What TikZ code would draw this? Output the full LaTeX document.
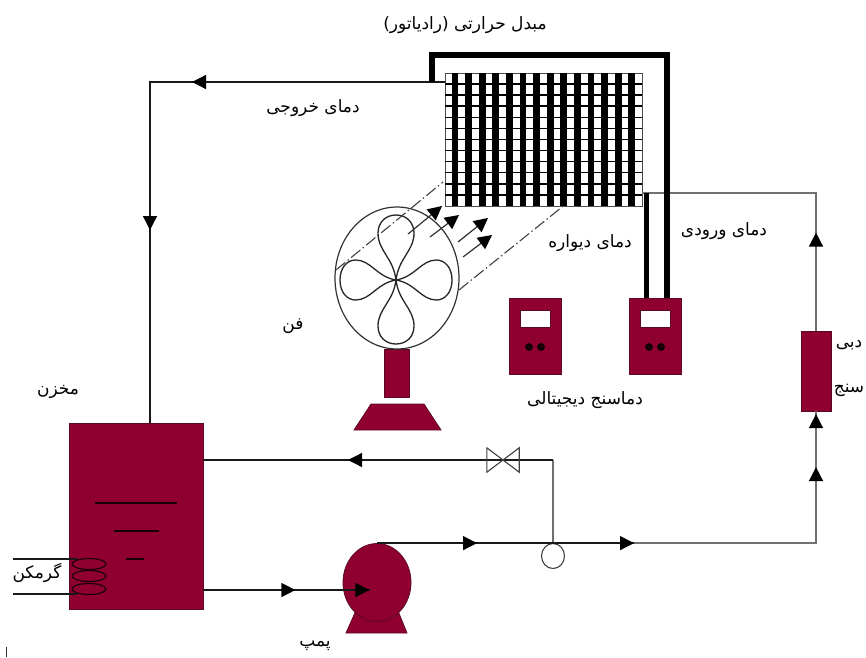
\documentclass[tikz,border=0pt]{standalone}
\usepackage{fontspec}
\usepackage{xcolor}
\usetikzlibrary{shapes.geometric, arrows.meta, positioning, calc, decorations.markings}
\newfontfamily\arabicfont[Script=Arabic]{DejaVu Sans}
\TeXXeTstate=1
\newcommand{\fa}[1]{\beginR #1\endR}
\definecolor{vesselRed}{HTML}{8F0030}
\definecolor{vesselEdge}{HTML}{5C0A24}
\definecolor{pipeGray}{HTML}{707070}
\tikzset{
    >=Triangle,
    % Flow marks
    flowtip/.style={postaction={decorate, decoration={markings,
        mark=at position #1 with {\arrow[black]{Triangle[length=14pt,width=14pt]}}}}},
    % Shapes
    vessel/.style={draw=vesselEdge, fill=vesselRed, line width=0.8pt},
    tankbox/.style={rectangle, vessel, inner sep=0pt, minimum width=134pt, minimum height=186pt},
    meterbox/.style={rectangle, vessel, inner sep=0pt, minimum width=52pt, minimum height=76pt},
    meterwin/.style={rectangle, draw=vesselEdge, fill=white, line width=0.8pt, inner sep=0pt,
                     minimum width=30pt, minimum height=17pt},
    meterdot/.style={circle, fill=black!85!vesselRed, inner sep=0pt, minimum size=8pt},
    coil/.style={ellipse, draw=black!80!vesselRed, line width=1.2pt, inner sep=0pt,
                 minimum width=34pt, minimum height=11pt},
    % Lines
    pipe/.style={draw=black!90, line width=1.3pt},
    pipegray/.style={draw=pipeGray, line width=1.6pt},
    thermo/.style={draw=black, line width=5.5pt},
    airline/.style={draw=black!75, line width=1.1pt, dash pattern=on 12pt off 3pt on 1.5pt off 3pt},
    airflow/.style={draw=black!80, line width=1.2pt, -{Triangle[length=14pt,width=14pt,color=black]}},
    lobe/.style={draw=black!85, line width=1.3pt},
    lbl/.style={font=\arabicfont\fontsize{17}{20}\selectfont, inner sep=0pt, text=black}
}
\begin{document}
\begin{tikzpicture}[x=1pt,y=-1pt]
\useasboundingbox (0,0) rectangle (866,657);

% radiator
\node[rectangle, draw=black!70, fill=white, line width=0.8pt, inner sep=0pt,
      minimum width=197pt, minimum height=133pt] (radiator) at (543.5,139.5) {};
\foreach \r in {1,...,11}
    \draw[black, line width=1.5pt] (445,73+11.08*\r) -- (642,73+11.08*\r);
\foreach \b in {0,...,13}
    \draw[black, line width=6.8pt] (455+13.6*\b,73) -- (455+13.6*\b,206);

% meters
\node[meterbox] (meterA) at (535,336) {};
\node[meterbox] (meterB) at (655,336) {};
\foreach \m in {meterA,meterB}{
    \node[meterwin, below=12pt of \m.north] (\m win) {};
    \node[meterdot] (\m dotL) at ($(\m.center)+(-6,11)$) {};
    \node[meterdot] (\m dotR) at ($(\m.center)+(6,11)$) {};
}

% fan stand, then fan
\node[rectangle, vessel, inner sep=0pt, minimum width=25pt, minimum height=48pt] (stand) at (396.5,373) {};
\draw[vessel] (354,430) -- (371,404) -- (424,404) -- (441,430) -- cycle;
\node[ellipse, draw=black!80, fill=white, line width=1.2pt, inner sep=0pt,
      minimum width=124pt, minimum height=142pt] (fan) at (397,278) {};
\foreach \ang/\len/\wid in {0/65/18, 90/56/20, 180/64/18, 270/56/20}
    \draw[lobe, shift={(396,280)}, rotate=\ang, xscale=\wid, yscale=\len]
        (0,0) .. controls (-0.15,-0.34) and (-1,-0.45) .. (-1,-0.72)
        .. controls (-1,-0.88) and (-0.6,-1) .. (0,-1)
        .. controls (0.6,-1) and (1,-0.88) .. (1,-0.72)
        .. controls (1,-0.45) and (0.15,-0.34) .. (0,0);

% air between fan and radiator
\coordinate (airTopA) at (336,270);
\coordinate (airTopB) at (443,182);
\coordinate (airBotA) at (459,290);
\coordinate (airBotB) at (562,207);
\draw[airline] (airTopA) -- (airTopB);
\draw[airline] (airBotA) -- (airBotB);
\foreach \i/\ax/\ay/\bx/\by in {1/408/234/442/206, 2/430/237/459/215, 3/458/242/488/218, 4/463/257/492/235}{
    \coordinate (airS\i) at (\ax,\ay);
    \coordinate (airE\i) at (\bx,\by);
    \draw[airflow] (airS\i) -- (airE\i);
}

% tank
\node[tankbox] (tank) at (136,516) {};
\draw[black!85!vesselRed, line width=1.2pt] (95,503) -- (177,503);
\draw[black!85!vesselRed, line width=1.2pt] (114,531) -- (159,531);
\draw[black!85!vesselRed, line width=1.2pt] (126,559) -- (144,559);
\node[coil] (coilA) at (89,564) {};
\node[coil] (coilB) at (89,576) {};
\node[coil] (coilC) at (89,589) {};
\coordinate (heatIn) at (13,559);
\coordinate (heatOut) at (13,594);
\draw[pipe] (heatIn) -- (heatIn -| coilA.north west);
\draw[pipe] (heatOut) -- (heatOut -| coilC.south west);

% pump
\draw[vessel] (346,633) -- (358,606) -- (396,606) -- (407,633) -- cycle;
\node[ellipse, vessel, inner sep=0pt, minimum width=68pt, minimum height=78pt] (pump) at (377,582.5) {};
\coordinate (pumpIn) at (370,590);

% flow meter, valve, sensor
\node[rectangle, vessel, inner sep=0pt, minimum width=30pt, minimum height=80pt] (flowmeter) at (816,371) {};
\node[ellipse, draw=black!75, fill=white, line width=1.1pt, inner sep=0pt,
      minimum width=23pt, minimum height=25pt] (sensor) at (553,556) {};
\node[rectangle, inner sep=0pt, minimum width=32pt, minimum height=24pt] (valve) at (503,460) {};

% pipes
\coordinate (radOut) at (445,82);
\coordinate (outCorner) at (150,82);
\coordinate (tankTop) at (150,423);
\draw[pipe, flowtip=253pt, flowtip=443pt] (radOut) -- (outCorner) -- (tankTop);
\coordinate (retCorner) at (553,460);
\draw[pipegray] (sensor.north) -- (retCorner);
\draw[pipe, flowtip=205pt] (retCorner) -- (valve.center) -- (tank.east |- valve);
\draw[black!75, line width=1.1pt] (valve.north west) -- (valve.south east) -- (valve.north east)
    -- (valve.south west) -- cycle;
\draw[pipe, flowtip=92pt, flowtip=166pt] (tank.east |- pumpIn) -- (pumpIn);
\coordinate (mainSplit) at (pump.north -| 634,543);
\coordinate (mainCorner) at (mainSplit -| flowmeter.south);
\draw[pipe, flowtip=100pt, flowtip=257pt] (pump.north) -- (mainSplit);
\draw[pipegray, flowtip=258pt, flowtip=311pt] (mainSplit) -- (mainCorner) -- (flowmeter.south);
\coordinate (radIn) at (642,193);
\draw[pipegray, flowtip=98pt] (flowmeter.north) -- (flowmeter.north |- radIn) -- (radIn);
\coordinate (thermoA) at (432,82);
\coordinate (thermoB) at (432,55);
\coordinate (thermoC) at (667,55);
\coordinate (thermoD) at (646.5,193);
\draw[thermo] (thermoA) -- (thermoB) -- (thermoC) -- (thermoC |- meterB.north);
\draw[thermo] (thermoD) -- (thermoD |- meterB.north);

% tick at the lower edge
\coordinate (tickA) at (6,647);
\coordinate (tickB) at (6,657);
\draw[black!80, line width=1pt] (tickA) -- (tickB);

% labels
\node[lbl] (lblRadiator) at (465,25) {\fa{مبدل حرارتی (رادیاتور)}};
\node[lbl] (lblOut) at (313,108) {\fa{دمای خروجی}};
\node[lbl] (lblIn) at (724,231) {\fa{دمای ورودی}};
\node[lbl] (lblWall) at (590,243) {\fa{دمای دیواره}};
\node[lbl] (lblFan) at (293,326) {\fa{فن}};
\node[lbl] (lblTank) at (58,392) {\fa{مخزن}};
\node[lbl] (lblThermo) at (585,400) {\fa{دماسنج دیجیتالی}};
\node[lbl] (lblFlowA) at (849,345) {\fa{دبی}};
\node[lbl] (lblFlowB) at (849,390) {\fa{سنج}};
\node[lbl] (lblHeater) at (37,573) {\fa{گرمکن}};
\node[lbl] (lblPump) at (315,646) {\fa{پمپ}};

\end{tikzpicture}
\end{document}
